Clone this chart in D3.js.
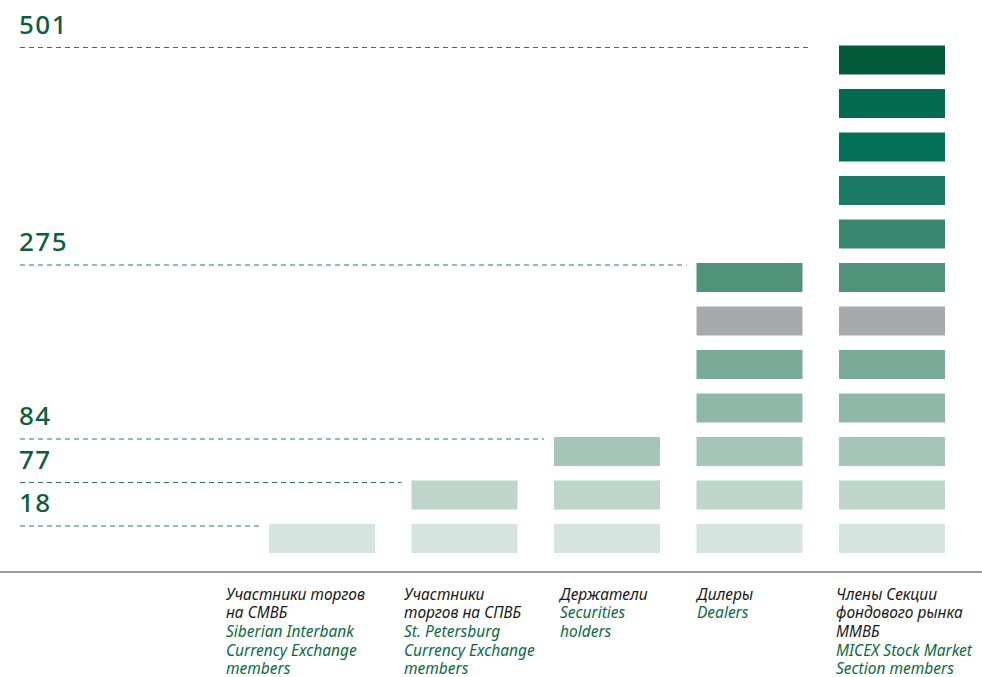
<!DOCTYPE html>
<html lang="ru">
<head>
<meta charset="utf-8">
<title>Участники торгов</title>
<script src="https://d3js.org/d3.v7.min.js"></script>
<style>
  body { margin: 0; background: #fff; }
  svg { display: block; }
</style>
</head>
<body>
<script>
var w = 982;
var h = 677;

// data
var categories = ["smvb", "spvb", "holders", "dealers", "micex"];
var values = [18, 77, 84, 275, 501];
var blockCounts = [1, 2, 3, 7, 12];
var labelsRu = [
  ["Участники торгов", "на СМВБ"],
  ["Участники", "торгов на СПВБ"],
  ["Держатели"],
  ["Дилеры"],
  ["Члены Секции", "фондового рынка", "ММВБ"]
];
var labelsEn = [
  ["Siberian Interbank", "Currency Exchange", "members"],
  ["St. Petersburg", "Currency Exchange", "members"],
  ["Securities", "holders"],
  ["Dealers"],
  ["MICEX Stock Market", "Section members"]
];
// block colours, bottom to top
var blockColors = ["#d5e4df", "#bed5cb", "#a6c5b9", "#8fb8a8", "#7aaa98", "#a8a9ad",
                   "#51927a", "#39876f", "#1c7b64", "#037157", "#03694f", "#035a3a"];

var green = "#0b5e3f";
var blockH = 29;

var svg = d3.select("body").append("svg")
  .attr("width", w)
  .attr("height", h);

var x = d3.scaleBand()
  .domain(categories)
  .range([269, 945])
  .paddingInner(0.256)
  .paddingOuter(0);

// bottom edge of block i
var y = d3.scaleLinear()
  .domain([0, 12])
  .range([553, 31]);

function topOf(n) { return y(n - 1) - blockH; }

// dashed guide lines + value labels
var guides = svg.selectAll("g.guide")
  .data(categories)
  .enter().append("g")
  .attr("class", "guide");

guides.append("line")
  .attr("x1", 20)
  .attr("x2", function(d, i) { return x(d) - (i === categories.length - 1 ? 31 : 10); })
  .attr("y1", function(d, i) { return topOf(blockCounts[i]) + 2; })
  .attr("y2", function(d, i) { return topOf(blockCounts[i]) + 2; })
  .attr("stroke", "#2e7a5c")
  .attr("stroke-width", 1)
  .attr("stroke-dasharray", "5,4");

guides.append("text")
  .attr("x", 19)
  .attr("y", function(d, i) { return topOf(blockCounts[i]) - 12; })
  .attr("fill", green)
  .style("font-family", "'Noto Sans', sans-serif")
  .style("font-size", "26px")
  .style("font-weight", 500)
  .style("letter-spacing", "1.5px")
  .text(function(d, i) { return values[i]; });

// blocks
categories.forEach(function(c, ci) {
  svg.selectAll("rect.b" + ci)
    .data(d3.range(blockCounts[ci]))
    .enter().append("rect")
    .attr("class", "b" + ci)
    .attr("x", x(c))
    .attr("width", x.bandwidth())
    .attr("y", function(i) { return y(i) - blockH; })
    .attr("height", blockH)
    .attr("fill", function(i) { return blockColors[i]; });
});

// baseline
svg.append("line")
  .attr("x1", 0).attr("x2", w)
  .attr("y1", 572).attr("y2", 572)
  .attr("stroke", "#777")
  .attr("stroke-width", 1.5);

// category labels
var labelX = [226, 404, 560, 697, 836];
categories.forEach(function(c, ci) {
  var lines = labelsRu[ci].map(function(t) { return { t: t, ru: true }; })
    .concat(labelsEn[ci].map(function(t) { return { t: t, ru: false }; }));
  var txt = svg.append("text")
    .attr("x", labelX[ci])
    .attr("y", 599.5)
    .style("font-family", "'Noto Sans', sans-serif")
    .style("font-style", "italic")
    .style("font-size", "15.5px");
  txt.selectAll("tspan")
    .data(lines)
    .enter().append("tspan")
    .attr("x", labelX[ci])
    .attr("dy", function(d, i) { return i === 0 ? 0 : 18.7; })
    .attr("fill", function(d) { return d.ru ? "#1a1a1a" : "#0a6b43"; })
    .text(function(d) { return d.t; });
});
</script>
</body>
</html>
